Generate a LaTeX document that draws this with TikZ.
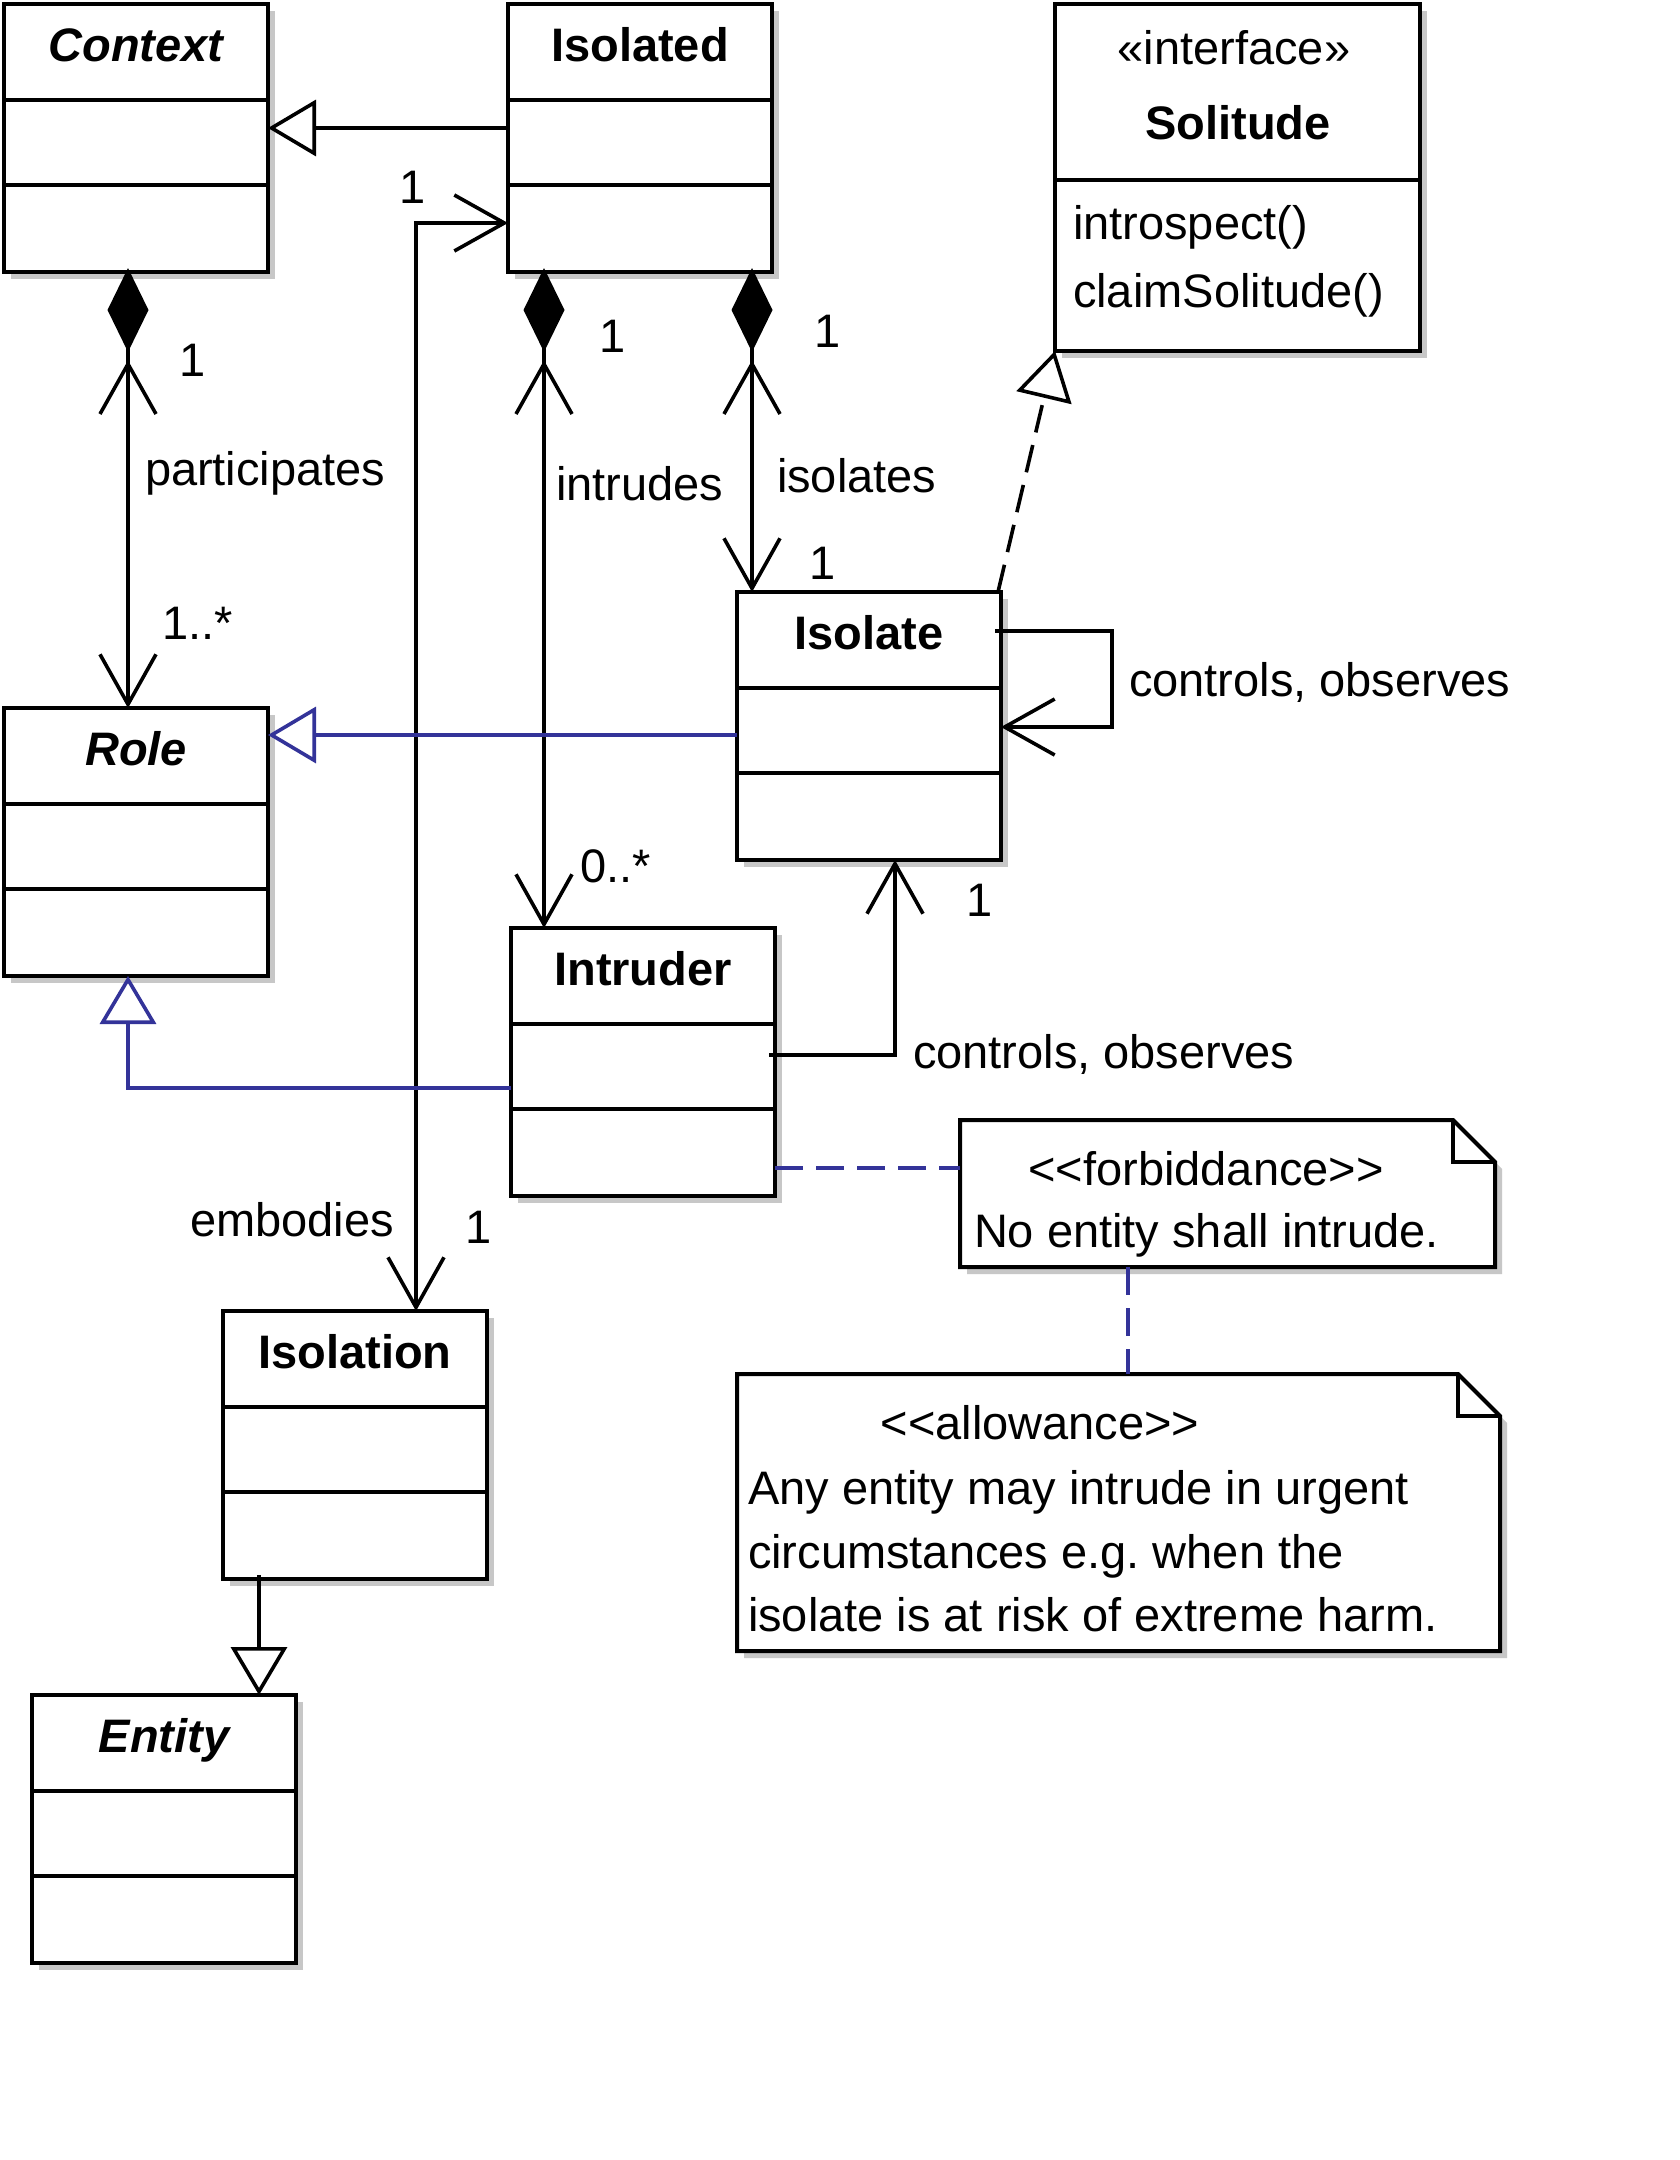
\documentclass[tikz,border=0pt]{standalone}
\usepackage{fontspec}
\setmainfont{Liberation Sans}
\usetikzlibrary{arrows.meta,calc,shadows}
\definecolor{umlblue}{RGB}{51,51,153}
\tikzset{
  navtip/.tip={Straight Barb[length=50pt,width=56pt]},
  gentip/.tip={Triangle[open,fill=white,length=48pt,width=56pt]},
}
\frenchspacing
\newcommand{\umlclass}[5]{%
  \node[classbox, anchor=north west] (#1) at (#2,#3) {};
  \draw[boxline] ($(#1.north west)+(0,96)$) -- ($(#1.north east)+(0,96)$);
  \draw[boxline] ($(#1.north west)+(0,181)$) -- ($(#1.north east)+(0,181)$);
  \node[clbl] (#1-name) at ($(#1.north)+(0,57)$) {#5\relax #4};
}
\newcommand{\umlnote}[5]{%
  \node[anchor=north west, minimum width=#4pt, minimum height=#5pt] (#1) at (#2,#3) {};
  \fill[black!22] ($(#1.north west)+(7,7)$) -- ($(#1.north east)+(-35,7)$) -- ($(#1.north east)+(7,49)$) -- ($(#1.south east)+(7,7)$) -- ($(#1.south west)+(7,7)$) -- cycle;
  \draw[boxline, fill=white] (#1.north west) -- ($(#1.north east)+(-42,0)$) -- ($(#1.north east)+(0,42)$) -- (#1.south east) -- (#1.south west) -- cycle;
  \draw[boxline] ($(#1.north east)+(-42,0)$) -- ($(#1.north east)+(-42,42)$) -- ($(#1.north east)+(0,42)$);
}
\newcommand{\compo}[1]{%
  \fill ($(#1)+(0,-4)$) -- ++(20.5,42) -- ++(-20.5,42) -- ++(-20.5,-42) -- cycle;
  \draw[conn] ($(#1)+(-28,142)$) -- ($(#1)+(0,92)$) -- ($(#1)+(28,142)$);
}
\begin{document}
\begin{tikzpicture}[x=1pt,y=-1pt,
  every node/.style={font=\fontsize{47}{63}\selectfont, inner sep=0pt, outer sep=0pt},
  classbox/.style={draw, line width=4pt, fill=white, minimum width=264pt, minimum height=268pt,
    drop shadow={shadow xshift=7pt, shadow yshift=-7pt, fill=black!22, opacity=1}},
  boxline/.style={line width=4pt},
  conn/.style={line width=3.6pt},
  gen/.style={conn,-{gentip}},
  bgen/.style={gen,draw=umlblue},
  nav/.style={conn,-{navtip}},
  bidir/.style={conn,{navtip}-{navtip}},
  bdash/.style={conn,draw=umlblue,dash pattern=on 28pt off 13pt},
  real/.style={conn,dash pattern=on 28pt off 13pt,-{gentip}},
  lbl/.style={anchor=base west},
  clbl/.style={anchor=base},
]
\fill[white] (0,0) rectangle (1680,2160);
\useasboundingbox (0,0) rectangle (1680,2160);

% classes
\umlclass{ctx}{4}{4}{Context}{\bfseries\itshape}
\umlclass{isod}{508}{4}{Isolated}{\bfseries}
\umlclass{role}{4}{708}{Role}{\bfseries\itshape}
\umlclass{iso}{737}{592}{Isolate}{\bfseries}
\umlclass{intr}{511}{928}{Intruder}{\bfseries}
\umlclass{isol}{223}{1311}{Isolation}{\bfseries}
\umlclass{ent}{32}{1695}{Entity}{\bfseries\itshape}

% interface
\node[classbox, anchor=north west, minimum width=365pt, minimum height=347pt] (sol) at (1055,4) {};
\draw[boxline] ($(sol.north west)+(0,176)$) -- ($(sol.north east)+(0,176)$);
\node[clbl] (s1) at (1234,64) {«interface»};
\node[clbl] (s2) at (1238,139) {\bfseries Solitude};
\node[lbl] (s3) at (1073,239) {introspect()};
\node[lbl] (s4) at (1073,307) {claimSolitude()};

% notes
\umlnote{note1}{960}{1120}{535}{147}
\node[clbl] (n1a) at (1206,1185) {<\kern0pt<forbiddance>\kern0pt>};
\node[lbl] (n1b) at (974,1247) {No entity shall intrude.};
\umlnote{note2}{737}{1374}{763}{277}
\node[clbl] (n2a) at (1040,1439) {<\kern0pt<allowance>\kern0pt>};
\node[lbl] (n2b) at (748,1504) {Any entity may intrude in urgent};
\node[lbl] (n2c) at (748,1568) {circumstances e.g. when the};
\node[lbl] (n2d) at (748,1631) {isolate is at risk of extreme harm.};

% 1 Isolated -> Context
\coordinate (g1) at ($(isod.north west)+(0,124)$);
\draw[gen] (g1) -- (g1 -| ctx.east);

% 2 Context <>- Role
\coordinate (c2) at ($(ctx.south west)+(124,0)$);
\draw[nav] (c2) -- (c2 |- role.north);
\compo{c2}

% 3 Isolated <>- Intruder
\coordinate (c3) at ($(isod.south west)+(36,0)$);
\draw[nav] (c3) -- (c3 |- intr.north);
\compo{c3}

% 4 Isolated <>- Isolate
\coordinate (c4) at ($(isod.south west)+(244,0)$);
\draw[nav] (c4) -- (c4 |- iso.north);
\compo{c4}

% 5 Isolation <-> Isolated
\coordinate (c5) at ($(isol.north west)+(193,0)$);
\coordinate (c5b) at ($(isod.north west)+(0,219)$);
\draw[bidir] (c5) |- (c5b);

% 6 Isolate -> Role
\coordinate (c6) at ($(iso.north west)+(0,143)$);
\draw[bgen] (c6) -- (c6 -| role.east);

% 7 Intruder -> Role
\coordinate (c7) at ($(intr.north west)+(0,160)$);
\draw[bgen] (c7) -| ($(role.south west)+(124,0)$);

% 8 Isolate self
\coordinate (c8) at ($(iso.north east)+(-6,39)$);
\draw[nav] (c8) -- ++(117,0) |- ($(iso.north east)+(0,135)$);

% 9 Intruder -> Isolate
\coordinate (c9) at ($(intr.north east)+(-6,127)$);
\draw[nav] (c9) -| ($(iso.south west)+(158,0)$);

% 10 realization
\draw[real] ($(iso.north east)+(-3,0)$) -- (sol.south west);

% 11 Intruder - note1
\coordinate (c11) at ($(intr.north east)+(0,240)$);
\draw[bdash] (c11) -- (c11 -| note1.west);

% 12 note1 - note2
\draw[bdash] ($(note1.south west)+(168,0)$) -- ($(note2.north west)+(391,0)$);

% 13 Isolation -> Entity
\draw[gen] ($(isol.south west)+(36,-4)$) -- ($(ent.north west)+(227,0)$);

% labels
\node[clbl] (l1) at (193,376) {1};
\node[lbl] (l2) at (145,485) {participates};
\node[lbl] (l3) at (162,639) {1..*};
\node[clbl] (l4) at (413,203) {1};
\node[clbl] (l5) at (613,352) {1};
\node[lbl] (l6) at (556,500) {intrudes};
\node[clbl] (l7) at (828,347) {1};
\node[lbl] (l8) at (777,492) {isolates};
\node[clbl] (l9) at (823,579) {1};
\node[lbl] (l10) at (1129,696) {controls, observes};
\node[lbl] (l11) at (580,882) {0..*};
\node[clbl] (l12) at (980,916) {1};
\node[lbl] (l13) at (913,1068) {controls, observes};
\node[clbl] (l14) at (292,1236) {embodies};
\node[clbl] (l15) at (479,1243) {1};
\end{tikzpicture}
\end{document}
